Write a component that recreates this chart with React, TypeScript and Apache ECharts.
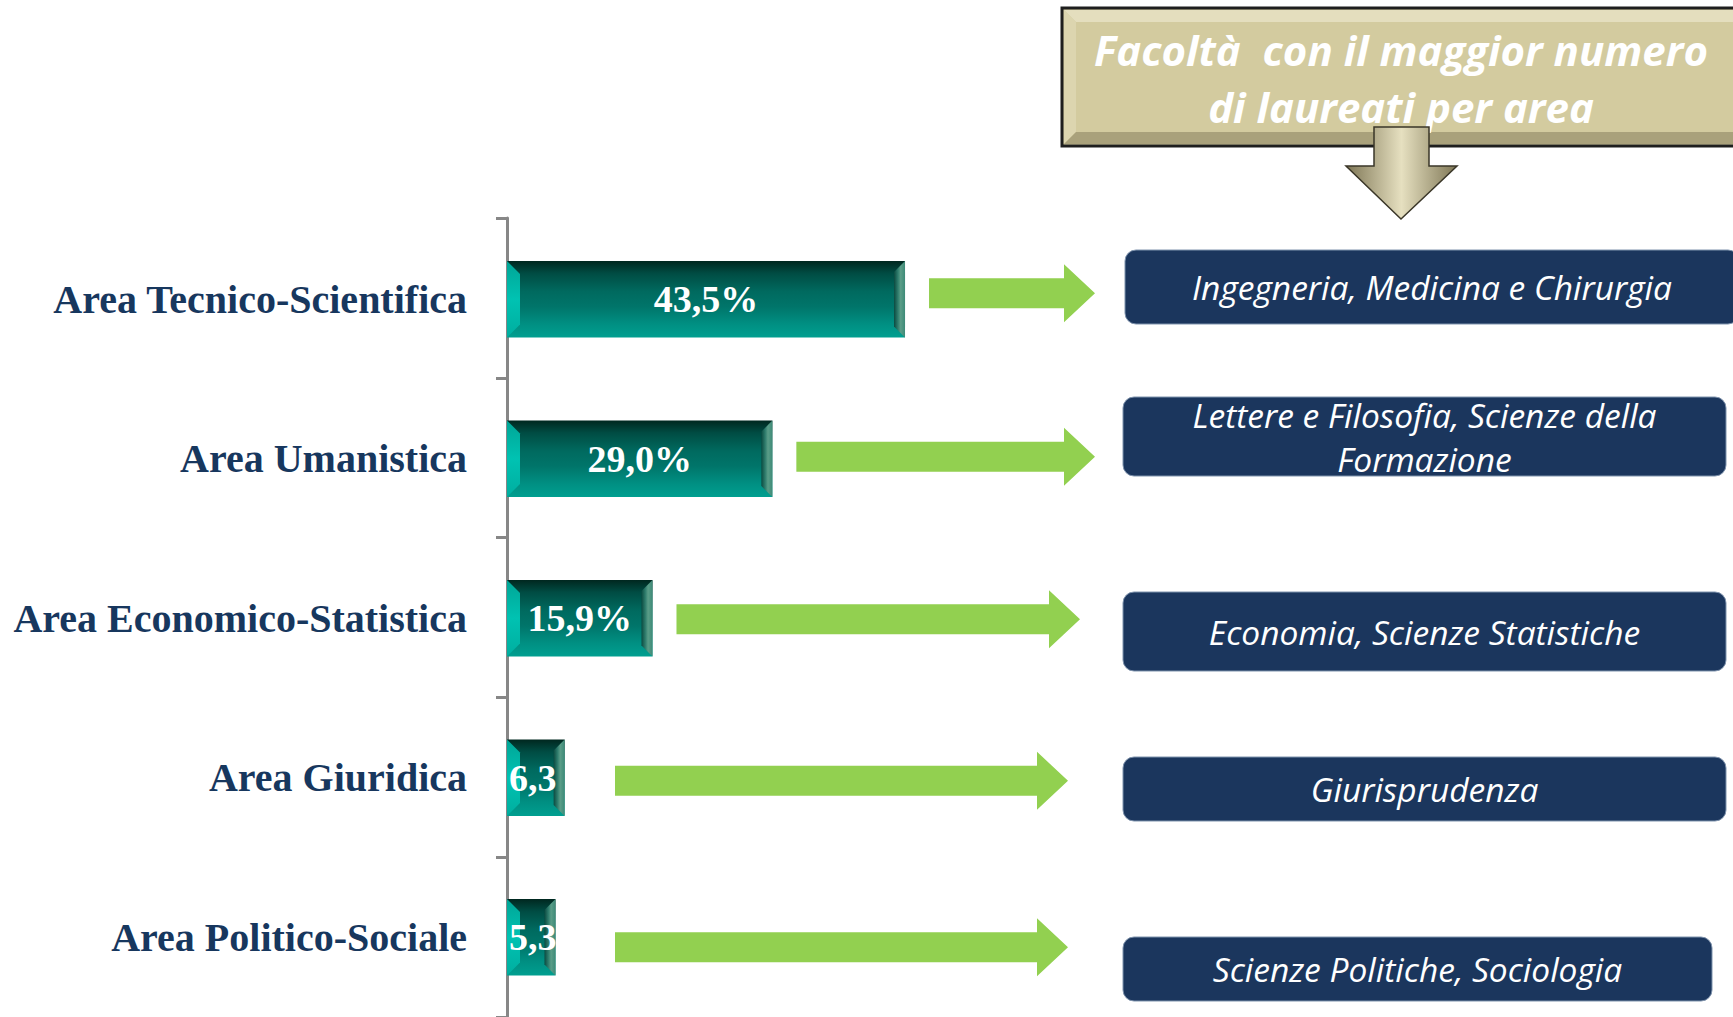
import React, { useEffect, useRef } from "react";
import * as echarts from "echarts";

// ---- data ----
const categories = [
  "Area Tecnico-Scientifica",
  "Area Umanistica",
  "Area Economico-Statistica",
  "Area Giuridica",
  "Area Politico-Sociale",
];
const shares = [43.5, 29.0, 15.9, 6.3, 5.3];
const faculties = [
  "Ingegneria, Medicina e Chirurgia",
  "Lettere e Filosofia, Scienze della\nFormazione",
  "Economia, Scienze Statistiche",
  "Giurisprudenza",
  "Scienze Politiche, Sociologia",
];
const titleLines = ["Facoltà  con il maggior numero", "di laureati per area"];

// ---- layout (positions / sizes, not data) ----
const AXIS_GRID = { left: 507, top: 218, width: 457.5, height: 803 };
const BAR_GRID = { left: 507, top: 219.6, width: 457.5, height: 806 };
const X_MAX = 50;
const BAR_FRAC = 0.48;
const arrowTipX = [1095, 1095, 1080, 1068, 1068];
const arrowDy = [-6, -2, 1, 3, 10];
const arrowMinStart = 615;
const boxLayout = [
  { x: 1125, y: 250, w: 614, h: 74 },
  { x: 1123, y: 397, w: 603, h: 79 },
  { x: 1123, y: 592, w: 603, h: 79 },
  { x: 1123, y: 757, w: 603, h: 64 },
  { x: 1123, y: 937, w: 589, h: 64 },
];

const fmt = (v: number) => v.toFixed(1).replace(".", ",") + "%";
const pxPerUnit = BAR_GRID.width / X_MAX;

export default function App() {
  const ref = useRef<HTMLDivElement>(null);
  useEffect(() => {
    if (!ref.current) return;
    const chart = echarts.init(ref.current, null, { renderer: "svg" });

    const barGradient = new echarts.graphic.LinearGradient(0, 0, 0, 1, [
      { offset: 0, color: "#00271F" },
      { offset: 0.16, color: "#004C43" },
      { offset: 0.4, color: "#006A5F" },
      { offset: 0.6, color: "#00756A" },
      { offset: 0.82, color: "#008F82" },
      { offset: 1, color: "#009F90" },
    ]);

    const labelData = shares.map((v) => {
      const w = v * pxPerUnit;
      const fits = w > 110;
      return {
        value: v,
        label: fits
          ? { position: "inside" }
          : {
              position: "insideLeft",
              distance: 2,
              width: w + 18,
              overflow: "truncate",
              ellipsis: "",
            },
      };
    });

    const graphics: any[] = [];
    // faculty boxes
    boxLayout.forEach((b, i) => {
      graphics.push({
        type: "group",
        children: [
          {
            type: "rect",
            shape: { x: b.x, y: b.y, width: b.w, height: b.h, r: 11 },
            style: { fill: "#1B365D", stroke: "#7F93AD", lineWidth: 1 },
          },
          {
            type: "text",
            x: b.x + b.w / 2,
            y: b.y + b.h / 2,
            style: {
              text: faculties[i],
              fill: "#FFFFFF",
              fontFamily: "Open Sans",
              fontStyle: "italic",
              fontSize: 33.5,
              lineHeight: 44,
              align: "center",
              verticalAlign: "middle",
            },
          },
        ],
      });
    });

    // title box
    const tb = { x: 1062, y: 8, w: 690, h: 138 };
    const bev = 14;
    const titleStyle = {
      fill: "#FFFFFF",
      fontFamily: "Open Sans",
      fontStyle: "italic",
      fontWeight: "bold",
      fontSize: 42,
      align: "center",
      verticalAlign: "middle",
    };
    graphics.push({
      type: "group",
      children: [
        {
          type: "rect",
          shape: { x: tb.x, y: tb.y, width: tb.w, height: tb.h },
          style: { fill: "#D3CB9F", stroke: "#1E1E1E", lineWidth: 3 },
        },
        {
          type: "polygon",
          shape: {
            points: [
              [tb.x + 2, tb.y + 2],
              [tb.x + tb.w, tb.y + 2],
              [tb.x + tb.w - bev, tb.y + bev],
              [tb.x + bev, tb.y + bev],
            ],
          },
          style: { fill: "#E4DEBE" },
        },
        {
          type: "polygon",
          shape: {
            points: [
              [tb.x + 2, tb.y + 2],
              [tb.x + bev, tb.y + bev],
              [tb.x + bev, tb.y + tb.h - bev],
              [tb.x + 2, tb.y + tb.h - 2],
            ],
          },
          style: { fill: "#DCD5AF" },
        },
        {
          type: "polygon",
          shape: {
            points: [
              [tb.x + 2, tb.y + tb.h - 2],
              [tb.x + bev, tb.y + tb.h - bev],
              [tb.x + tb.w - bev, tb.y + tb.h - bev],
              [tb.x + tb.w, tb.y + tb.h - 2],
            ],
          },
          style: { fill: "#A9A17B" },
        },
        {
          type: "text",
          x: 1401,
          y: 49,
          style: { ...titleStyle, text: titleLines[0] },
        },
        {
          type: "text",
          x: 1401,
          y: 106,
          style: { ...titleStyle, text: titleLines[1] },
        },
        {
          type: "polygon",
          shape: {
            points: [
              [1374, 127],
              [1429, 127],
              [1429, 166],
              [1457, 166],
              [1401, 219],
              [1346, 166],
              [1374, 166],
            ],
          },
          style: {
            fill: new echarts.graphic.LinearGradient(0, 0, 1, 0, [
              { offset: 0, color: "#7E7655" },
              { offset: 0.5, color: "#E6E0C0" },
              { offset: 1, color: "#7E7655" },
            ]),
            stroke: "#3A3628",
            lineWidth: 1.5,
          },
        },
      ],
    });

    const option: any = {
      animation: false,
      backgroundColor: "#FFFFFF",
      grid: [
        { ...AXIS_GRID, containLabel: false },
        { ...BAR_GRID, containLabel: false },
      ],
      xAxis: [
        { type: "value", gridIndex: 0, min: 0, max: X_MAX, show: false },
        { type: "value", gridIndex: 1, min: 0, max: X_MAX, show: false },
      ],
      yAxis: [
        {
          type: "category",
          gridIndex: 0,
          data: categories,
          inverse: true,
          axisLine: { show: true, lineStyle: { color: "#878787", width: 3 } },
          axisTick: { show: true, length: 11, lineStyle: { color: "#878787", width: 3 } },
          axisLabel: { show: false },
          splitLine: { show: false },
        },
        {
          type: "category",
          gridIndex: 1,
          data: categories,
          inverse: true,
          axisLine: { show: false },
          axisTick: { show: false },
          splitLine: { show: false },
          axisLabel: {
            margin: 40,
            color: "#17375E",
            fontFamily: "Liberation Serif",
            fontWeight: "bold",
            fontSize: 40,
          },
        },
      ],
      series: [
        {
          // base bars
          type: "bar",
          name: "base",
          xAxisIndex: 1,
          yAxisIndex: 1,
          data: shares,
          barWidth: BAR_FRAC * 100 + "%",
          barGap: "-100%",
          z: 2,
          itemStyle: { color: barGradient },
        },
        {
          // bevel edges of the bars
          type: "custom",
          name: "bevel",
          xAxisIndex: 1,
          yAxisIndex: 1,
          z: 3,
          silent: true,
          data: shares.map((v, i) => [v, i]),
          encode: { x: 0, y: 1 },
          renderItem: (params: any, api: any) => {
            const end = api.coord([api.value(0), api.value(1)]);
            const start = api.coord([0, api.value(1)]);
            const h = api.size([0, 1])[1] * BAR_FRAC;
            const x0 = start[0];
            const x1 = end[0];
            const y0 = end[1] - h / 2;
            const y1 = end[1] + h / 2;
            const bl = 13;
            const br = 11;
            return {
              type: "group",
              children: [
                {
                  type: "polygon",
                  shape: {
                    points: [
                      [x0, y0],
                      [x0 + bl, y0 + bl],
                      [x0 + bl, y1 - bl],
                      [x0, y1],
                    ],
                  },
                  style: {
                    fill: new echarts.graphic.LinearGradient(0, 0, 0, 1, [
                      { offset: 0, color: "#00A596" },
                      { offset: 0.5, color: "#00C2B2" },
                      { offset: 1, color: "#00AE9F" },
                    ]),
                  },
                },
                {
                  type: "polygon",
                  shape: {
                    points: [
                      [x1, y0],
                      [x1, y1],
                      [x1 - br, y1 - br],
                      [x1 - br, y0 + br],
                    ],
                  },
                  style: {
                    fill: new echarts.graphic.LinearGradient(0, 0, 1, 0, [
                      { offset: 0, color: "#0B4A40" },
                      { offset: 0.35, color: "#2E7C6C" },
                      { offset: 0.6, color: "#5B9D88" },
                      { offset: 1, color: "#3D8A77" },
                    ]),
                  },
                },
              ],
            };
          },
        },
        {
          // value labels on top
          type: "bar",
          name: "labels",
          xAxisIndex: 1,
          yAxisIndex: 1,
          data: labelData,
          barWidth: BAR_FRAC * 100 + "%",
          barGap: "-100%",
          z: 4,
          silent: true,
          itemStyle: { color: "rgba(0,0,0,0)" },
          label: {
            show: true,
            color: "#FFFFFF",
            fontFamily: "Liberation Serif",
            fontWeight: "bold",
            fontSize: 38,
            formatter: (p: any) => fmt(p.value),
          },
        },
        {
          // green arrows pointing to the faculty boxes
          type: "custom",
          name: "arrows",
          xAxisIndex: 1,
          yAxisIndex: 1,
          data: shares.map((v, i) => [v, i]),
          encode: { x: 0, y: 1 },
          silent: true,
          renderItem: (params: any, api: any) => {
            const i = params.dataIndex;
            const p = api.coord([api.value(0), api.value(1)]);
            const start = Math.max(p[0] + 24, arrowMinStart);
            const tip = arrowTipX[i];
            const y = p[1] + arrowDy[i];
            const half = 15;
            const headHalf = 29;
            const headLen = 31;
            return {
              type: "polygon",
              shape: {
                points: [
                  [start, y - half],
                  [tip - headLen, y - half],
                  [tip - headLen, y - headHalf],
                  [tip, y],
                  [tip - headLen, y + headHalf],
                  [tip - headLen, y + half],
                  [start, y + half],
                ],
              },
              style: { fill: "#92D050" },
            };
          },
        },
      ],
      graphic: graphics,
    };

    chart.setOption(option);
    return () => chart.dispose();
  }, []);

  return (
    <div
      ref={ref}
      style={{ position: "absolute", left: 0, top: 0, width: 1733, height: 1017 }}
    />
  );
}
